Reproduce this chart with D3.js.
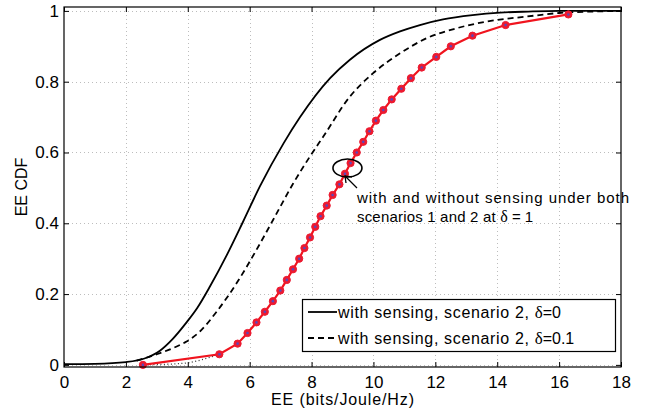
<!DOCTYPE html>
<html>
<head>
<meta charset="utf-8">
<script src="https://cdn.jsdelivr.net/npm/d3@7"></script>
<style>
  body { margin: 0; background: #fff; }
  text { font-family: "Liberation Sans", Arial, sans-serif; }
</style>
</head>
<body>
<svg id="chart" width="654" height="413"></svg>
<script>
// EE CDF, scenario 2, delta = 0 (solid)
var solidX = [0, 1, 2, 2.6, 3.1, 3.5, 3.96, 4.3, 4.72, 5.26, 5.79, 6.33, 7.09, 7.63, 8.6, 9.24, 10.21, 10.86, 11.5, 12.25, 13.2, 14.1, 15, 16, 17, 18];
var solidY = [0.002, 0.003, 0.008, 0.018, 0.04, 0.072, 0.12, 0.16, 0.222, 0.31, 0.405, 0.504, 0.625, 0.70, 0.81, 0.862, 0.918, 0.942, 0.96, 0.976, 0.988, 0.995, 0.998, 1, 1, 1];

// delta = 0.1 (dashed)
var dashX = [2.35, 3.0, 3.64, 3.96, 4.4, 4.93, 5.58, 6.22, 6.76, 7.41, 7.95, 8.38, 9.24, 9.99, 10.86, 11.72, 12.69, 13.66, 14.95, 16.0, 17, 18];
var dashY = [0.012, 0.03, 0.052, 0.066, 0.095, 0.15, 0.231, 0.325, 0.41, 0.513, 0.589, 0.645, 0.758, 0.824, 0.88, 0.923, 0.951, 0.97, 0.984, 0.994, 0.998, 1];

// with and without sensing, delta = 1 (red markers)
var markX = [2.55, 5.02, 5.61, 5.93, 6.22, 6.49, 6.75, 6.99, 7.2, 7.4, 7.6, 7.77, 7.95, 8.12, 8.29, 8.49, 8.68, 8.9, 9.08, 9.26, 9.46, 9.67, 9.87, 10.08, 10.32, 10.59, 10.9, 11.21, 11.56, 12.03, 12.5, 13.2, 14.27, 16.3];
var markY = [0, 0.03, 0.06, 0.09, 0.12, 0.15, 0.18, 0.21, 0.24, 0.27, 0.30, 0.33, 0.36, 0.39, 0.42, 0.45, 0.48, 0.51, 0.54, 0.57, 0.60, 0.63, 0.66, 0.69, 0.72, 0.75, 0.78, 0.81, 0.84, 0.87, 0.90, 0.93, 0.96, 0.99];

// dotted series hidden under the red one except at the start
var dotX = [2.55, 3.8, 5.02];
var dotY = [0, 0.004, 0.03];

var xTicks = [0, 2, 4, 6, 8, 10, 12, 14, 16, 18];
var yTicks = [0, 0.2, 0.4, 0.6, 0.8, 1];
var yTickLabels = ["0", "0.2", "0.4", "0.6", "0.8", "1"];

var svg = d3.select("#chart");
var pLeft = 64, pRight = 621, pTop = 7, pBottom = 367;

var x = d3.scaleLinear().domain([0, 18]).range([pLeft, pRight]);
var y = d3.scaleLinear().domain([-0.006, 1.011]).range([pBottom, pTop]);

// grid
svg.append("g").selectAll("line")
    .data(xTicks.slice(1, -1))
    .enter().append("line")
    .attr("x1", d => Math.round(x(d)) + 0.5).attr("x2", d => Math.round(x(d)) + 0.5)
    .attr("y1", pTop).attr("y2", pBottom)
    .attr("stroke", "#bdbdbd").attr("stroke-width", 1)
    .attr("stroke-dasharray", "1,3");
svg.append("g").selectAll("line")
    .data(yTicks)
    .enter().append("line")
    .attr("x1", pLeft).attr("x2", pRight)
    .attr("y1", d => Math.round(y(d)) + 0.5).attr("y2", d => Math.round(y(d)) + 0.5)
    .attr("stroke", "#bdbdbd").attr("stroke-width", 1)
    .attr("stroke-dasharray", "1,3");

// axes (ticks pointing inward, like matlab)
var xAxisB = d3.axisBottom(x).tickValues(xTicks).tickSize(-5).tickPadding(9).tickSizeOuter(0);
var xAxisT = d3.axisTop(x).tickValues(xTicks).tickSize(-5).tickFormat("").tickSizeOuter(0);
var yAxisL = d3.axisLeft(y).tickValues(yTicks).tickSize(-5).tickPadding(5).tickSizeOuter(0)
    .tickFormat((d, i) => yTickLabels[i]);
var yAxisR = d3.axisRight(y).tickValues(yTicks).tickSize(-5).tickFormat("").tickSizeOuter(0);

function styleAxis(g) {
    g.select(".domain").remove();
    g.selectAll(".tick line").attr("stroke", "#000").attr("stroke-width", 1);
    g.selectAll(".tick text").attr("font-size", 17).attr("fill", "#000")
        .style("font-family", "'Liberation Sans', Arial, sans-serif");
}
svg.append("g").attr("transform", "translate(0," + pBottom + ")").call(xAxisB).call(styleAxis);
svg.append("g").attr("transform", "translate(0," + pTop + ")").call(xAxisT).call(styleAxis);
svg.append("g").attr("transform", "translate(" + pLeft + ",0)").call(yAxisL).call(styleAxis);
svg.append("g").attr("transform", "translate(" + pRight + ",0)").call(yAxisR).call(styleAxis);

// series
var line = d3.line().x(d => x(d[0])).y(d => y(d[1]));
var smooth = d3.line().x(d => x(d[0])).y(d => y(d[1])).curve(d3.curveMonotoneX);

svg.append("path")
    .datum(d3.zip(dotX, dotY))
    .attr("d", smooth).attr("fill", "none")
    .attr("stroke", "#333").attr("stroke-width", 1.3).attr("stroke-dasharray", "1,2.5");

svg.append("path")
    .datum(d3.zip(solidX, solidY))
    .attr("d", smooth).attr("fill", "none")
    .attr("stroke", "#000").attr("stroke-width", 1.8);

svg.append("path")
    .datum(d3.zip(dashX, dashY))
    .attr("d", smooth).attr("fill", "none")
    .attr("stroke", "#000").attr("stroke-width", 1.8).attr("stroke-dasharray", "6,4");

var markData = d3.zip(markX, markY);
svg.append("path")
    .datum(markData)
    .attr("d", line).attr("fill", "none")
    .attr("stroke", "#f0141e").attr("stroke-width", 2.2);

svg.append("g").selectAll("circle")
    .data(markData)
    .enter().append("circle")
    .attr("cx", d => x(d[0])).attr("cy", d => y(d[1]))
    .attr("r", 3.6)
    .attr("fill", "#ec1a30").attr("stroke", "#ec1a30").attr("stroke-width", 1);
svg.append("g").selectAll("circle")
    .data(markData)
    .enter().append("circle")
    .attr("cx", d => x(d[0])).attr("cy", d => y(d[1]))
    .attr("r", 1.3)
    .attr("fill", "#5a48b8");

// frame
svg.append("rect")
    .attr("x", pLeft).attr("y", pTop)
    .attr("width", pRight - pLeft).attr("height", pBottom - pTop)
    .attr("fill", "none").attr("stroke", "#000").attr("stroke-width", 1.2);

// axis labels
svg.append("text")
    .attr("x", (pLeft + pRight) / 2).attr("y", 405)
    .attr("text-anchor", "middle").attr("font-size", 16)
    .attr("textLength", 143).attr("lengthAdjust", "spacing")
    .text("EE (bits/Joule/Hz)");
svg.append("text")
    .attr("transform", "translate(27," + (pTop + pBottom) / 2 + ") rotate(-90)")
    .attr("text-anchor", "middle").attr("font-size", 16)
    .text("EE CDF");

// annotation: ellipse + arrow + note
svg.append("ellipse")
    .attr("cx", x(9.16)).attr("cy", y(0.556))
    .attr("rx", 14.5).attr("ry", 9)
    .attr("fill", "none").attr("stroke", "#000").attr("stroke-width", 1.6);

var ax1 = 357, ay1 = 188, ax2 = 345, ay2 = 176;
svg.append("line")
    .attr("x1", ax1).attr("y1", ay1).attr("x2", ax2).attr("y2", ay2)
    .attr("stroke", "#000").attr("stroke-width", 1.3);
svg.append("path")
    .attr("d", "M" + (ax2 + 1) + "," + (ay2 + 7) + " L" + ax2 + "," + ay2 + " L" + (ax2 + 7) + "," + (ay2 + 1))
    .attr("fill", "none").attr("stroke", "#000").attr("stroke-width", 1.3);

svg.append("text").attr("font-size", 15)
    .attr("x", 357).attr("y", 203)
    .attr("textLength", 272).attr("lengthAdjust", "spacing")
    .text("with and without sensing under both");
var l2 = svg.append("text").attr("font-size", 15).attr("x", 357).attr("y", 222);
l2.append("tspan").attr("textLength", 143).attr("lengthAdjust", "spacing").text("scenarios 1 and 2 at ");
l2.append("tspan").style("font-family", "'Liberation Serif', serif").attr("font-size", 16).text("δ");
l2.append("tspan").text(" = 1");

// legend
var lg = svg.append("g");
lg.append("rect")
    .attr("x", 302.5).attr("y", 299.5).attr("width", 313).attr("height", 52)
    .attr("fill", "#fff").attr("stroke", "#000").attr("stroke-width", 1.2);
var legendItems = [
    { label: "with sensing, scenario 2, ", val: "=0", dash: null, yy: 312 },
    { label: "with sensing, scenario 2, ", val: "=0.1", dash: "6,4", yy: 338 }
];
legendItems.forEach(function (it) {
    lg.append("line")
        .attr("x1", 308).attr("x2", 337).attr("y1", it.yy).attr("y2", it.yy)
        .attr("stroke", "#000").attr("stroke-width", 1.8)
        .attr("stroke-dasharray", it.dash);
    var t = lg.append("text").attr("x", 338).attr("y", it.yy + 6).attr("font-size", 16);
    t.append("tspan").attr("textLength", 196).attr("lengthAdjust", "spacing").text(it.label);
    t.append("tspan").style("font-family", "'Liberation Serif', serif").attr("font-size", 17).text("δ");
    t.append("tspan").text(it.val);
});
</script>
</body>
</html>
